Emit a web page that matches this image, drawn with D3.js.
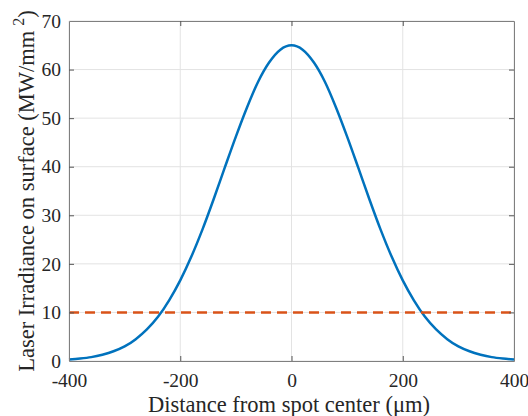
<!DOCTYPE html>
<html><head><meta charset="utf-8">
<script src="https://cdn.jsdelivr.net/npm/d3@7"></script>
<style>
html,body{margin:0;padding:0;background:#fff;}
svg{display:block;}
text{font-family:"Liberation Serif","Times New Roman",serif !important;fill:#262626;}
</style></head>
<body><div id="chart"></div>
<script>
// Data
const distance = [-400,-380,-360,-340,-320,-300,-280,-260,-240,-220,-200,-180,-160,-140,-120,-100,-80,-60,-40,-20,0,
                  20,40,60,80,100,120,140,160,180,200,220,240,260,280,300,320,340,360,380,400];
const irradiance = [0.3,0.5,0.8,1.3,2.0,3.0,4.5,6.5,9.1,12.5,16.6,21.5,27.1,33.3,39.8,46.2,52.2,57.5,61.5,64.1,65.0,
                    64.1,61.5,57.5,52.2,46.2,39.8,33.3,27.1,21.5,16.6,12.5,9.1,6.5,4.5,3.0,2.0,1.3,0.8,0.5,0.3];
const thresholdValue = [10];
const xTicks = [-400,-200,0,200,400];
const yTicks = [0,10,20,30,40,50,60,70];
const xLabel = "Distance from spot center (\u03bcm)";
const yLabelMain = "Laser Irradiance on surface (MW/mm";
const yLabelSup = "2";

const W = 528, H = 416;
const m = {left:69, right:14, top:21, bottom:55};
const svg = d3.select("#chart").append("svg").attr("width",W).attr("height",H);
const x = d3.scaleLinear().domain([-400,400]).range([m.left, W-m.right]);
const y = d3.scaleLinear().domain([0,70]).range([H-m.bottom, m.top]);
const axisColor = "#7f7f7f";
const fmt = d => String(d);

// grid
const g = svg.append("g");
g.selectAll(".vg").data(xTicks).join("line")
  .attr("x1",d=>x(d)).attr("x2",d=>x(d)).attr("y1",y(0)).attr("y2",y(70))
  .attr("stroke","#e3e3e3").attr("stroke-width",1);
g.selectAll(".hg").data(yTicks).join("line")
  .attr("y1",d=>y(d)).attr("y2",d=>y(d)).attr("x1",x(-400)).attr("x2",x(400))
  .attr("stroke","#e3e3e3").attr("stroke-width",1);

// data lines
const line = d3.line().x((d,i)=>x(distance[i])).y(d=>y(d)).curve(d3.curveMonotoneX);
svg.append("path").datum(irradiance).attr("d",line)
  .attr("fill","none").attr("stroke","#0072BD").attr("stroke-width",2.5);
svg.selectAll(".thr").data(thresholdValue).join("line")
  .attr("x1",x(-400)).attr("x2",x(400)).attr("y1",d=>y(d)).attr("y2",d=>y(d))
  .attr("stroke","#D95319").attr("stroke-width",2.5).attr("stroke-dasharray","10,6");

// axes (MATLAB box style, inward ticks)
const tl = 5;
const xb = svg.append("g").attr("transform",`translate(0,${y(0)})`)
  .call(d3.axisBottom(x).tickValues(xTicks).tickFormat(fmt).tickSizeInner(-tl).tickSizeOuter(0).tickPadding(12));
const xt = svg.append("g").attr("transform",`translate(0,${y(70)})`)
  .call(d3.axisTop(x).tickValues(xTicks).tickSizeInner(-tl).tickSizeOuter(0).tickFormat(""));
const yl = svg.append("g").attr("transform",`translate(${x(-400)},0)`)
  .call(d3.axisLeft(y).tickValues(yTicks).tickFormat(fmt).tickSizeInner(-tl).tickSizeOuter(0).tickPadding(8));
const yr = svg.append("g").attr("transform",`translate(${x(400)},0)`)
  .call(d3.axisRight(y).tickValues(yTicks).tickSizeInner(-tl).tickSizeOuter(0).tickFormat(""));
[xb,xt,yl,yr].forEach(a=>{
  a.attr("font-family",null);
  a.select(".domain").attr("stroke",axisColor).attr("stroke-width",1);
  a.selectAll(".tick line").attr("stroke","#555").attr("stroke-width",1);
  a.selectAll("text").attr("font-size",19.5).attr("fill","#262626");
});
yl.selectAll(".tick").filter(d=>d===0||d===70).select("line").attr("stroke","none");
xb.selectAll(".tick").filter(d=>d===-400||d===400).select("line").attr("stroke","none");
xt.selectAll(".tick").filter(d=>d===-400||d===400).select("line").attr("stroke","none");
yr.selectAll(".tick").filter(d=>d===0||d===70).select("line").attr("stroke","none");

// axis labels
svg.append("text").attr("x",289).attr("y",412).attr("text-anchor","middle")
  .attr("font-size",22.5).text(xLabel);
const yt = svg.append("text").attr("transform",`translate(34,${191}) rotate(-90)`)
  .attr("text-anchor","middle").attr("font-size",22.5);
yt.append("tspan").text(yLabelMain);
yt.append("tspan").attr("dx",5).attr("dy",-10).attr("font-size",16).text(yLabelSup);
yt.append("tspan").attr("dy",10).text(")");
</script></body></html>
